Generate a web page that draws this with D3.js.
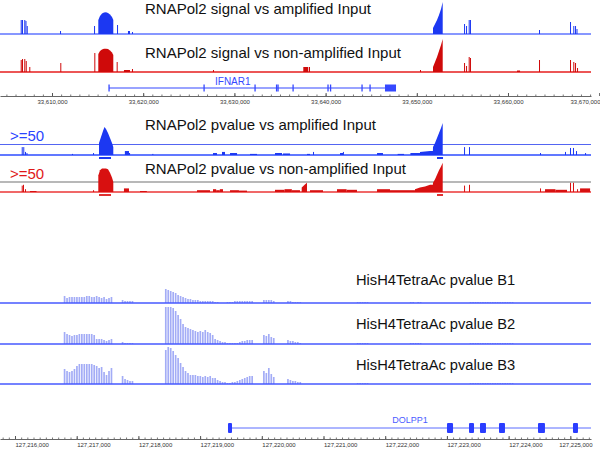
<!DOCTYPE html>
<html>
<head>
<meta charset="utf-8">
<script src="https://cdn.jsdelivr.net/npm/d3@7"></script>
<style>
body { margin: 0; background: #fff; }
svg { display: block; font-family: "Liberation Sans", Arial, sans-serif; }
</style>
</head>
<body>
<div id="chart"></div>
<script>
// ---- locus 1 (IFNAR1), chr positions ----
var topTicks = [33610000, 33620000, 33630000, 33640000, 33650000, 33660000, 33670000];

var sigBluePeaks = [
    [[33615077, 14], [33615263, 18], [33615483, 20.5], [33615702, 21.5], [33615921, 21.7], [33616140, 21], [33616360, 19.5], [33616579, 17], [33616721, 14]],
    [[33651777, 6], [33651997, 10], [33652216, 14], [33652435, 19], [33652655, 25], [33652841, 32]]
];
var sigBlueBlocks = [[33618330, 33618550, 3]];
var sigBlueSpikes = [[33606570, 14], [33606710, 14], [33606960, 14], [33607090, 13], [33607230, 8], [33610880, 3],
    [33614610, 8], [33617130, 9], [33618770, 2], [33655180, 10], [33655400, 8], [33655690, 14], [33655830, 14],
    [33663400, 4], [33666800, 12], [33667160, 8], [33667350, 8], [33667510, 5]];

var sigRedPeaks = [
    [[33615077, 18], [33615263, 21], [33615483, 22.5], [33615702, 23.3], [33615921, 23.3], [33616140, 23], [33616360, 21.5], [33616579, 19.5], [33616721, 17]],
    [[33651777, 5], [33651997, 10], [33652216, 15], [33652435, 21], [33652655, 27], [33652841, 33]]
];
var sigRedBlocks = [[33617890, 33618550, 2], [33637555, 33638100, 5], [33660990, 33661320, 1.5]];
var sigRedSpikes = [[33606570, 12], [33606710, 13], [33606960, 13], [33607120, 11], [33607510, 5], [33610910, 9],
    [33614640, 19], [33617090, 10], [33618770, 3], [33627650, 2], [33638180, 5], [33650350, 2], [33655180, 9],
    [33655400, 6], [33655690, 15], [33655830, 14], [33663400, 12], [33666800, 12], [33667160, 10], [33667350, 9], [33667570, 4]];

var pvBluePeaks = [
    [[33615154, 55], [33615263, 68], [33615373, 82], [33615483, 96], [33615592, 109], [33615757, 127], [33615921, 118], [33616140, 100], [33616360, 77], [33616579, 55], [33616721, 36]],
    [[33650350, 14], [33650900, 16], [33651450, 18], [33651765, 18], [33651777, 36], [33651997, 55], [33652216, 77], [33652435, 100], [33652655, 123], [33652841, 146]]
];
var pvBlueBlocks = [[33617990, 33618440, 18], [33618440, 33618560, 9], [33627654, 33628090, 9], [33628640, 33628970, 14],
    [33629520, 33630290, 9], [33631710, 33632480, 5], [33634450, 33635220, 9], [33635330, 33636100, 7],
    [33637960, 33638290, 5], [33641580, 33641910, 9], [33645640, 33646290, 9], [33647900, 33648600, 5], [33649300, 33650350, 9]];
var pvBlueSpikes = [[33606680, 36], [33606850, 36], [33607040, 14], [33607200, 9], [33612190, 5], [33614500, 9],
    [33621000, 5], [33638620, 14], [33641900, 14], [33655180, 36], [33655724, 36], [33663510, 9],
    [33666250, 14], [33666800, 32], [33667125, 32], [33667458, 18], [33668450, 9]];

var pvRedPeaks = [
    [[33615077, 82], [33615263, 109], [33615483, 118], [33615702, 118], [33615921, 118], [33616140, 114], [33616360, 96], [33616579, 73], [33616721, 50]],
    [[33649800, 14], [33650350, 23], [33650900, 27], [33651450, 36], [33651765, 36], [33651777, 46], [33651997, 64], [33652216, 86], [33652435, 109], [33652655, 127], [33652841, 146]],
    [[33637380, 23], [33637700, 36], [33637960, 46]]
];
var pvRedBlocks = [[33617890, 33618440, 18], [33607590, 33608300, 5], [33619650, 33620400, 5], [33625900, 33627325, 9],
    [33627654, 33628000, 14], [33628000, 33628400, 9], [33628400, 33628750, 14], [33629520, 33630500, 9], [33630500, 33631380, 7],
    [33634450, 33635500, 11], [33635500, 33636300, 14], [33636300, 33637190, 9], [33638290, 33639715, 9],
    [33641250, 33642300, 14], [33642300, 33643440, 11], [33645640, 33647060, 14], [33647060, 33649800, 9],
    [33664060, 33665200, 14], [33665200, 33666470, 11], [33667900, 33669000, 18]];
var pvRedSpikes = [[33606680, 32], [33606820, 36], [33607040, 14], [33614500, 9], [33655180, 32], [33655724, 36],
    [33663510, 18], [33666800, 46], [33667125, 46], [33667570, 14]];

var peakCalls = [[33615154, 33616470], [33652216, 33652875]];

var ifnarSpan = [33616250, 33646510];
var ifnarExons = [33616250, 33626670, 33632260, 33634620, 33634780, 33636430, 33640260, 33640540, 33643990, 33644870];
var ifnarUtr = [33646510, 33647720];

// ---- locus 2 (DOLPP1) ----
var botTicks = [127216000, 127217000, 127218000, 127219000, 127220000, 127221000, 127222000, 127223000, 127224000, 127225000];
var histBin = 40;
var histStarts = [127216790, 127217730, 127218430, 127220020, 127220410, 127221540, 127222400, 127223370];
var b1Values = [
    [7, 5, 6, 6, 6, 6, 6, 6, 6, 7, 7, 6, 6, 7, 6, 5, 6, 4, 5, 6],
    [3, 2, 2, 2, 2],
    [14, 13, 12, 11, 10, 8, 7, 6, 5, 4, 4, 3, 3, 3, 2, 2, 2, 2, 2, 2, 1, 1, 0, 0, 0, 1, 1, 1, 2, 2, 2, 2, 2, 2, 2, 2],
    [3, 3, 3, 3, 2],
    [2, 2, 1, 1, 1, 1],
    [1, 1, 1, 1, 1],
    [1, 1, 0, 1, 1],
    [1, 1, 1, 1, 1, 1, 1, 1, 1, 1, 1, 1, 1, 1, 1, 1, 1, 1]
];
var b2Values = [
    [12, 10, 9, 8, 9, 9, 10, 10, 10, 10, 10, 10, 9, 5, 5, 5, 4, 3, 4, 5],
    [2, 1, 1, 1, 1],
    [37, 37, 37, 36, 33, 29, 25, 20, 17, 16, 15, 14, 13, 12, 13, 12, 14, 12, 11, 9, 5, 4, 3, 2, 2, 1, 1, 1, 1, 1, 2, 3, 3, 4, 4, 4],
    [9, 8, 10, 7, 6],
    [4, 3, 3, 2, 2, 1],
    [1, 1, 1, 1, 1],
    [1, 1, 1, 1, 1],
    [1, 1, 1, 1, 1, 1, 1, 1, 1, 1, 1, 1, 1, 1, 1, 1, 1, 1]
];
var b3Values = [
    [15, 13, 12, 13, 15, 18, 20, 20, 20, 20, 20, 20, 19, 18, 16, 17, 12, 9, 13, 16],
    [8, 5, 4, 3, 3],
    [34, 37, 36, 33, 29, 26, 21, 17, 13, 11, 9, 9, 9, 8, 8, 7, 8, 7, 8, 6, 6, 4, 3, 2, 2, 1, 1, 2, 2, 3, 4, 5, 6, 7, 8, 8],
    [13, 11, 16, 10, 7],
    [5, 4, 3, 3, 2, 2],
    [1, 1, 1, 1, 1],
    [0, 0, 0, 0, 0],
    [1, 1, 1, 1, 1, 1, 1, 1, 1, 1, 1, 1, 1, 1, 1, 1, 1, 1]
];
var histTitles = ["HisH4TetraAc pvalue B1", "HisH4TetraAc pvalue B2", "HisH4TetraAc pvalue B3"];

var dolppSpan = [127219452, 127225335];
var dolppExons = [[127219452, 127219517], [127223001, 127223099], [127223358, 127223439], [127223536, 127223633],
    [127223844, 127223941], [127224476, 127224589], [127225043, 127225124]];

// ---------------------------------------------------------
var width = 600, height = 449, trackRight = 591;

var svg = d3.select("#chart").append("svg")
    .attr("width", width)
    .attr("height", height);

var xTop = d3.scaleLinear().domain([33604298, 33669101]).range([0, trackRight]);
var xBot = d3.scaleLinear().domain([127215757, 127225335]).range([0, trackRight]);

function hline(y, color, w) {
    svg.append("line")
        .attr("x1", 0).attr("x2", trackRight)
        .attr("y1", y).attr("y2", y)
        .attr("stroke", color).attr("stroke-width", w);
}

function drawFeatures(x, y, peaks, blocks, spikes, color) {
    var g = svg.append("g");
    var area = d3.area()
        .x(function(d) { return x(d[0]); })
        .y0(y(0))
        .y1(function(d) { return y(d[1]); });
    g.selectAll("path.peak").data(peaks).join("path")
        .attr("class", "peak")
        .attr("d", area)
        .attr("fill", color);
    g.selectAll("rect.block").data(blocks).join("rect")
        .attr("class", "block")
        .attr("x", function(d) { return x(d[0]); })
        .attr("width", function(d) { return Math.max(1, x(d[1]) - x(d[0])); })
        .attr("y", function(d) { return y(d[2]); })
        .attr("height", function(d) { return y(0) - y(d[2]); })
        .attr("fill", color);
    g.selectAll("rect.spike").data(spikes).join("rect")
        .attr("class", "spike")
        .attr("x", function(d) { return x(d[0]); })
        .attr("width", 1)
        .attr("y", function(d) { return y(d[1]); })
        .attr("height", function(d) { return y(0) - y(d[1]); })
        .attr("fill", color);
}

function title(text, x, y, size) {
    svg.append("text")
        .attr("x", x).attr("y", y)
        .attr("font-size", size)
        .attr("fill", "#111")
        .text(text);
}

// signal tracks
var ySig1 = d3.scaleLinear().domain([0, 32]).range([34, 2]);
var ySig2 = d3.scaleLinear().domain([0, 32]).range([72, 40]);

hline(34, "#8797ff", 2);
drawFeatures(xTop, ySig1, sigBluePeaks, sigBlueBlocks, sigBlueSpikes, "#1c38f2");
title("RNAPol2 signal vs amplified Input", 145, 14, 15);

hline(72, "#e61e1e", 1.6);
drawFeatures(xTop, ySig2, sigRedPeaks, sigRedBlocks, sigRedSpikes, "#cf0a0a");
title("RNAPol2 signal vs non-amplified Input", 145, 57.5, 15);

// gene IFNAR1
var geneBlue = "#3548ff";
svg.append("line")
    .attr("x1", xTop(ifnarSpan[0])).attr("x2", xTop(ifnarSpan[1]))
    .attr("y1", 88).attr("y2", 88)
    .attr("stroke", geneBlue).attr("stroke-width", 1.2);
svg.selectAll("rect.ifnar").data(ifnarExons).join("rect")
    .attr("class", "ifnar")
    .attr("x", function(d) { return xTop(d) - 0.6; })
    .attr("width", 1.3)
    .attr("y", 84.5).attr("height", 7)
    .attr("fill", geneBlue);
svg.append("rect")
    .attr("x", xTop(ifnarUtr[0])).attr("width", xTop(ifnarUtr[1]) - xTop(ifnarUtr[0]))
    .attr("y", 84.5).attr("height", 7)
    .attr("fill", geneBlue);
svg.append("text")
    .attr("x", 215).attr("y", 85)
    .attr("font-size", 10)
    .attr("fill", geneBlue)
    .text("IFNAR1");

// ruler helper
function ruler(x, y, majors, minorStep, anchor) {
    var fmt = d3.format(",");
    var minors = d3.range(x.domain()[0] - x.domain()[0] % minorStep + minorStep, x.domain()[1], minorStep);
    svg.append("g")
        .attr("transform", "translate(0," + y + ")")
        .call(d3.axisBottom(x).tickValues(minors).tickSize(-1.5).tickFormat(""))
        .call(function(g) { g.select(".domain").remove(); })
        .selectAll("line").attr("stroke", "#777");
    var ax = svg.append("g")
        .attr("transform", "translate(0," + y + ")")
        .call(d3.axisBottom(x).tickValues(majors).tickSizeInner(-3).tickSizeOuter(0).tickPadding(3.5).tickFormat(fmt));
    ax.select(".domain").attr("stroke", "#666");
    ax.selectAll("line").attr("stroke", "#555");
    ax.selectAll("text")
        .attr("font-size", 6)
        .attr("font-family", "Liberation Sans, Arial, sans-serif")
        .attr("fill", "#333")
        .attr("text-anchor", anchor)
        .each(function(d) {
            var len = this.getComputedTextLength();
            var left = anchor === "start" ? x(d) : x(d) - len / 2;
            if (left + len > width - 8 + (anchor === "start" ? 0 : 8)) {
                var limit = anchor === "start" ? 592 : 600;
                d3.select(this).attr("x", limit - len - left);
            }
        });
}

ruler(xTop, 96, topTicks, 1000, "middle");

// pvalue tracks
var yPv1 = d3.scaleLinear().domain([0, 50]).range([155, 144]);
var yPv2 = d3.scaleLinear().domain([0, 50]).range([192, 182]);

hline(144.5, "#5465f2", 1);
hline(155, "#2d4bff", 1.5);
drawFeatures(xTop, yPv1, pvBluePeaks, pvBlueBlocks, pvBlueSpikes, "#1c38f2");
title("RNAPol2 pvalue vs amplified Input", 145, 129.5, 15);
svg.append("text").attr("x", 10).attr("y", 141).attr("font-size", 15).attr("fill", "#2a45ff").text(">=50");
svg.selectAll("rect.callB").data(peakCalls).join("rect")
    .attr("class", "callB")
    .attr("x", function(d) { return xTop(d[0]); })
    .attr("width", function(d) { return xTop(d[1]) - xTop(d[0]); })
    .attr("y", 157).attr("height", 2)
    .attr("fill", "#1c38f2");

hline(182, "#b8b8b8", 2);
hline(192, "#f06868", 2);
drawFeatures(xTop, yPv2, pvRedPeaks, pvRedBlocks, pvRedSpikes, "#d81010");
title("RNAPol2 pvalue vs non-amplified Input", 145, 174, 15);
svg.append("text").attr("x", 10).attr("y", 179).attr("font-size", 15).attr("fill", "#e01818").text(">=50");
svg.selectAll("rect.callR").data(peakCalls).join("rect")
    .attr("class", "callR")
    .attr("x", function(d) { return xTop(d[0]); })
    .attr("width", function(d) { return xTop(d[1]) - xTop(d[0]); })
    .attr("y", 194).attr("height", 2)
    .attr("fill", "#e03030");

// histone tracks
var histSets = [b1Values, b2Values, b3Values];
var histBase = [303, 344, 384];
var titleBase = [285, 328.5, 370];

histSets.forEach(function(set, k) {
    var y = d3.scaleLinear().domain([0, 40]).range([histBase[k], histBase[k] - 40]);
    var bars = [];
    set.forEach(function(vals, c) {
        vals.forEach(function(v, i) {
            bars.push([histStarts[c] + i * histBin, v]);
        });
    });
    svg.append("g").selectAll("rect").data(bars).join("rect")
        .attr("x", function(d) { return xBot(d[0]); })
        .attr("width", xBot(histBin) - xBot(0) - 0.8)
        .attr("y", function(d) { return y(d[1]); })
        .attr("height", function(d) { return y(0) - y(d[1]); })
        .attr("fill", "#a3acf6");
    hline(histBase[k], "#4659ff", 1.5);
    title(histTitles[k], 356, titleBase[k], 14.7);
});

// gene DOLPP1
svg.append("line")
    .attr("x1", xBot(dolppSpan[0])).attr("x2", xBot(dolppSpan[1]))
    .attr("y1", 428).attr("y2", 428)
    .attr("stroke", "#5a6cff").attr("stroke-width", 1);
svg.selectAll("rect.dolpp").data(dolppExons).join("rect")
    .attr("class", "dolpp")
    .attr("x", function(d) { return xBot(d[0]); })
    .attr("width", function(d) { return xBot(d[1]) - xBot(d[0]); })
    .attr("y", 423).attr("height", 10)
    .attr("rx", 1)
    .attr("fill", "#2a3dff");
svg.append("text")
    .attr("x", 410).attr("y", 422.7)
    .attr("text-anchor", "middle")
    .attr("font-size", 9)
    .attr("fill", "#4a5cff")
    .text("DOLPP1");

ruler(xBot, 439, botTicks, 100, "start");
</script>
</body>
</html>
